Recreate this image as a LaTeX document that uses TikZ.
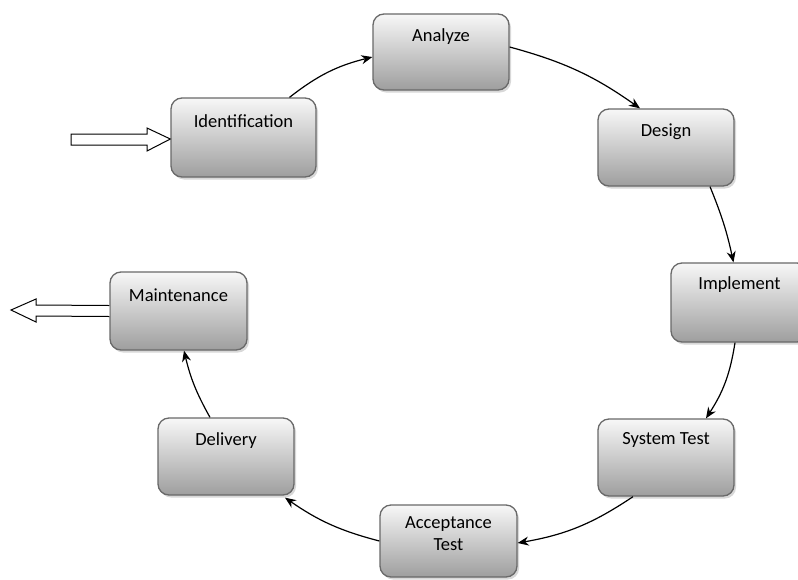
\documentclass[tikz,border=0pt]{standalone}
\usepackage{fontspec}
\setmainfont{Carlito}
\usetikzlibrary{arrows.meta,shadows}
\tikzset{
  box/.style={rounded corners=11pt, draw={rgb,255:red,105;green,105;blue,105}, line width=1.3pt,
    top color=white!97!black, bottom color=black!38,
    drop shadow={shadow xshift=2pt, shadow yshift=-2.5pt, fill=black!30, opacity=0.5},
    minimum width=136pt, minimum height=77pt, inner sep=0pt},
  lab/.style={font=\fontsize{18.5}{22}\selectfont, anchor=center, align=center, inner sep=0pt},
  flow/.style={-{Stealth[length=11pt,width=9pt]}, line width=1.2pt, black},
  block/.style={draw=black, fill=white, line width=1pt}
}
\begin{document}
\begin{tikzpicture}[x=1pt,y=-1pt]
\clip (0,0) rectangle (798,579);
\fill[white] (0,0) rectangle (798,579);
% boxes
\node[box, minimum width=145pt, minimum height=79pt] (id) at (243.5,137.5) {};
\node[box, minimum height=76pt] (an) at (441,52) {};
\node[box] (de) at (666,147.5) {};
\node[box, minimum width=137pt, minimum height=79pt] (im) at (739.5,302.5) {};
\node[box] (st) at (666,457.5) {};
\node[box, minimum width=137pt, minimum height=72pt] (ac) at (448.5,541) {};
\node[box] (dl) at (226,456.5) {};
\node[box, minimum width=137pt, minimum height=78pt] (mt) at (178.5,311) {};
% labels
\node[lab] (idl) at ([yshift=-24pt]id.north) {Identification};
\node[lab] (anl) at ([yshift=-23pt]an.north) {Analyze};
\node[lab] (del) at ([yshift=-23pt]de.north) {Design};
\node[lab] (iml) at ([yshift=-22pt]im.north) {Implement};
\node[lab] (stl) at ([yshift=-22pt]st.north) {System Test};
\node[lab] (acl) at ([yshift=-29pt]ac.north) {Acceptance\\Test};
\node[lab] (dll) at ([yshift=-23pt]dl.north) {Delivery};
\node[lab] (mtl) at ([yshift=-24pt]mt.north) {Maintenance};
% cycle connectors
\draw[flow] ([xshift=46pt]id.north) to[bend left=12] ([yshift=-5pt]an.west);
\draw[flow] ([yshift=5pt]an.east) to[bend left=10] ([xshift=-26pt]de.north);
\draw[flow] ([xshift=44pt]de.south) to[bend left=5] ([xshift=-6pt]im.north);
\draw[flow] ([xshift=-4.5pt]im.south) to[bend left=12] ([xshift=40pt]st.north);
\draw[flow] ([xshift=-33pt]st.south) to[bend left=12] ([yshift=-2pt]ac.east);
\draw[flow] (ac.west) to[bend left=10] ([xshift=59pt,yshift=-2pt]dl.south);
\draw[flow] ([xshift=-16pt]dl.north) to[bend left=8] ([xshift=5.5pt]mt.south);
% block arrows
\coordinate (inS) at ([yshift=-1.5pt]id.west);
\coordinate (outS) at (mt.west);
\draw[block] (71,134) -- (147,134) -- (147,128) -- (inS) -- (147,151) -- (147,145) -- (71,145) -- cycle;
\draw[block] ([yshift=5.5pt]outS) -- (36,305) -- (36,299) -- (11,310) -- (36,322) -- (36,316) -- ([yshift=-5.5pt]outS);
\end{tikzpicture}
\end{document}
